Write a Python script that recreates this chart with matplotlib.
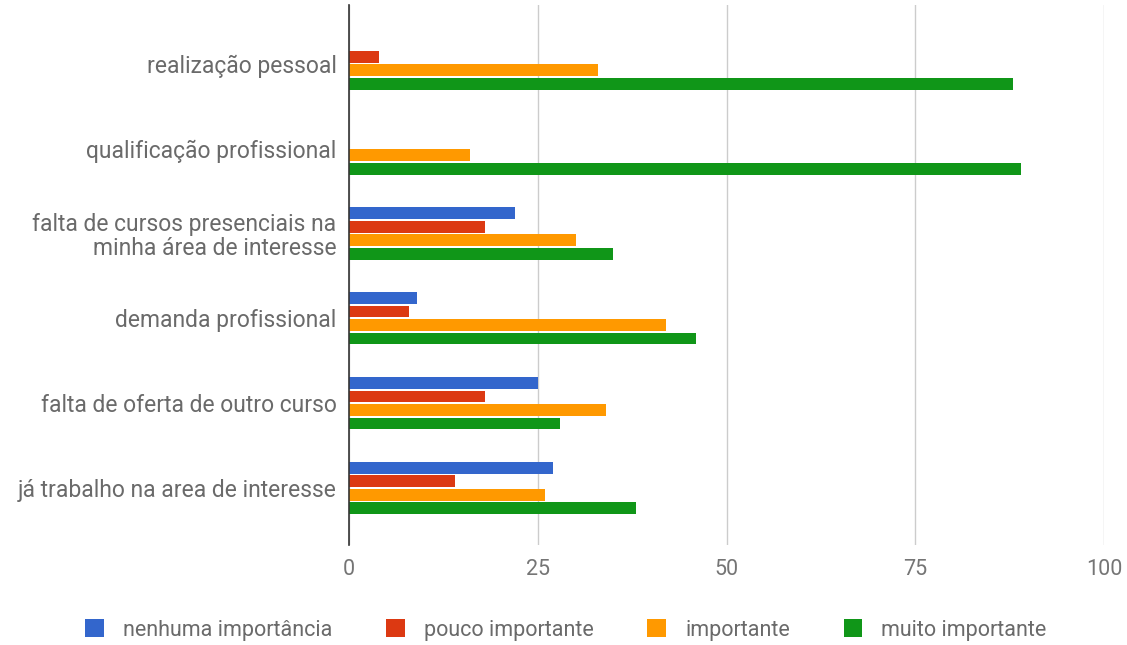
import matplotlib
matplotlib.use("Agg")
import matplotlib.pyplot as plt
import numpy as np

categories = [
    "realização pessoal",
    "qualificação profissional",
    "falta de cursos presenciais na\nminha área de interesse",
    "demanda profissional",
    "falta de oferta de outro curso",
    "já trabalho na area de interesse",
]
series_names = ["nenhuma importância", "pouco importante", "importante", "muito importante"]
nenhuma = [0, 0, 22, 9, 25, 27]
pouco = [4, 0, 18, 8, 18, 14]
importante = [33, 16, 30, 42, 34, 26]
muito = [88, 89, 35, 46, 28, 38]
x_ticks = [0, 25, 50, 75, 100]

colors = ["#3366cc", "#dc3912", "#ff9900", "#109618"]
series = [nenhuma, pouco, importante, muito]

plt.rcParams["font.family"] = ["Roboto", "DejaVu Sans"]

fig = plt.figure(figsize=(11.27, 6.45), dpi=100)
ax = fig.add_axes([349 / 1127, 1 - 545 / 645, (1104 - 349) / 1127, 540 / 645])

y = np.arange(len(categories))
step = 0.159
height = 0.14
offsets = [-1.5, -0.5, 0.5, 1.5]
for vals, col, off, name in zip(series, colors, offsets, series_names):
    ax.barh(y + off * step, vals, height=height, color=col, label=name,
            zorder=3, linewidth=0)

ax.set_xlim(0, 100)
ax.set_ylim(len(categories) - 1 + 0.67, -0.69)
ax.set_xticks(x_ticks)
ax.set_xticklabels([str(t) for t in x_ticks])
ax.set_yticks(y)
ax.set_yticklabels(categories, ha="right", linespacing=1.05)
ax.tick_params(axis="x", length=0, labelsize=15.5, colors="#757575", pad=10)
ax.tick_params(axis="y", length=0, labelsize=16.5, colors="#6a6a6a", pad=9)

ax.grid(axis="x", color="#cccccc", linewidth=1, zorder=0)
for s in ["top", "right", "bottom"]:
    ax.spines[s].set_visible(False)
ax.spines["left"].set_color("#333333")
ax.spines["left"].set_linewidth(1.2)
ax.spines["left"].set_zorder(4)

handles, labels = ax.get_legend_handles_labels()
fig.legend(handles, labels, loc="center", bbox_to_anchor=(566 / 1127, 1 - 630 / 645),
           ncol=4, frameon=False, fontsize=15.5, labelcolor="#6a6a6a",
           handlelength=0.85, handleheight=0.85, handletextpad=0.9, columnspacing=2.5)

fig.savefig("out.png", dpi=100)
